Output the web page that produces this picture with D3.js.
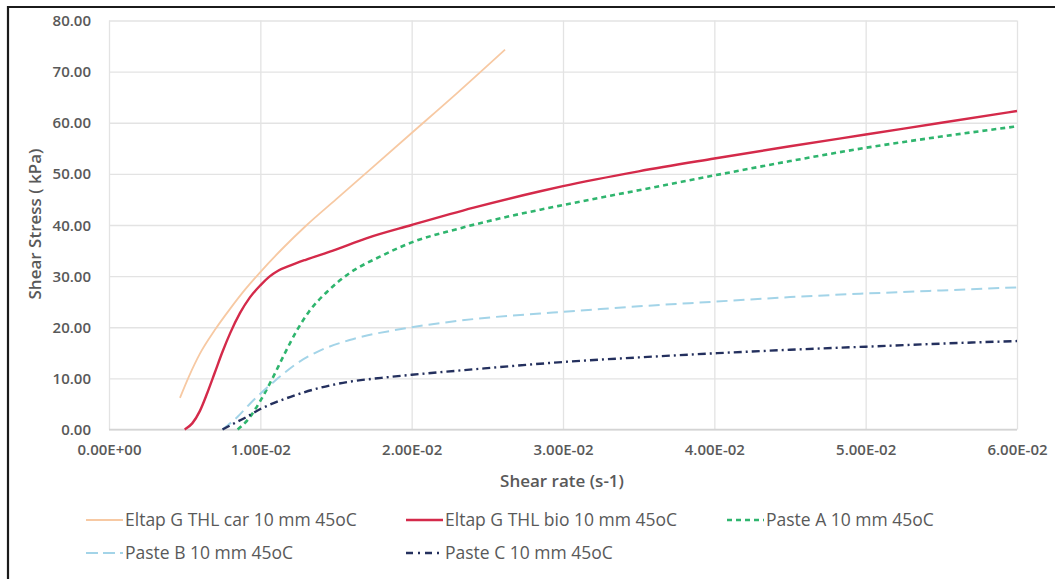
<!DOCTYPE html>
<html>
<head>
<meta charset="utf-8">
<script src="https://cdn.jsdelivr.net/npm/d3@7"></script>
<style>
  body { margin: 0; background: #fff; }
  svg text { font-family: "Open Sans", "Noto Sans", sans-serif; fill: #595959; }
</style>
</head>
<body>
<div class="chart"></div>
<script>
//data (shear rate in s-1, shear stress in kPa)
const seriesNames = [
    'Eltap G THL car 10 mm 45oC',
    'Eltap G THL bio 10 mm 45oC',
    'Paste A 10 mm 45oC',
    'Paste B 10 mm 45oC',
    'Paste C 10 mm 45oC'
];
const carRate = [0.00469, 0.0053, 0.0060, 0.0070, 0.0080, 0.0090, 0.0100, 0.0115, 0.0130, 0.0150, 0.0170, 0.0200, 0.0230, 0.02617];
const carStress = [6.2, 10.5, 14.8, 19.5, 23.6, 27.4, 30.8, 35.5, 39.8, 45.0, 50.2, 58.0, 65.8, 74.3];

const bioRate = [0.0050, 0.0055, 0.0060, 0.0065, 0.0070, 0.0075, 0.0080, 0.00866, 0.0093, 0.0100, 0.0106, 0.0112, 0.0120, 0.0130, 0.0148, 0.0170, 0.0200, 0.0241, 0.0285, 0.0300, 0.0350, 0.0400, 0.0450, 0.0500, 0.0550, 0.0600];
const bioStress = [0.0, 1.2, 3.6, 7.2, 11.2, 15.2, 18.8, 22.8, 25.8, 28.2, 29.9, 31.1, 32.1, 33.2, 35.0, 37.4, 40.0, 43.4, 46.6, 47.6, 50.5, 53.0, 55.4, 57.7, 60.0, 62.3];

const pasteARate = [0.0085, 0.0092, 0.0100, 0.0108, 0.0116, 0.0124, 0.0132, 0.0144, 0.0159, 0.0179, 0.0200, 0.0230, 0.0263, 0.0285, 0.0300, 0.0350, 0.0400, 0.0450, 0.0500, 0.0550, 0.0600];
const pasteAStress = [0.0, 2.0, 5.6, 10.0, 14.8, 19.3, 23.0, 26.9, 30.6, 33.8, 36.6, 39.2, 41.6, 43.0, 43.9, 46.8, 49.7, 52.5, 55.1, 57.3, 59.3];

const pasteBRate = [0.0075, 0.0085, 0.0093, 0.0100, 0.0108, 0.0116, 0.0124, 0.0137, 0.0159, 0.0192, 0.0200, 0.0241, 0.0285, 0.0300, 0.0350, 0.0400, 0.0450, 0.0500, 0.0550, 0.0600];
const pasteBStress = [0.0, 2.5, 5.0, 7.0, 9.1, 11.1, 12.9, 15.1, 17.5, 19.6, 20.0, 21.6, 22.7, 23.0, 24.1, 25.0, 25.9, 26.6, 27.2, 27.8];

const pasteCRate = [0.0075, 0.0080, 0.0090, 0.0100, 0.0110, 0.0120, 0.0140, 0.0160, 0.0180, 0.0200, 0.0250, 0.0300, 0.0350, 0.0400, 0.0450, 0.0500, 0.0550, 0.0600];
const pasteCStress = [0.0, 0.8, 2.3, 4.0, 5.3, 6.4, 8.2, 9.4, 10.1, 10.7, 12.0, 13.2, 14.1, 14.9, 15.6, 16.2, 16.8, 17.3];

const xTicks = [0, 0.01, 0.02, 0.03, 0.04, 0.05, 0.06];
const xTickLabels = ['0.00E+00', '1.00E-02', '2.00E-02', '3.00E-02', '4.00E-02', '5.00E-02', '6.00E-02'];
const yTicks = [0, 10, 20, 30, 40, 50, 60, 70, 80];

//build series
const zip = (xs, ys) => xs.map((x, i) => ({ x: x, y: ys[i] }));
const series = [
    { name: seriesNames[0], values: zip(carRate, carStress), color: '#f7c9a3', width: 1.8, dash: null, legendDash: null },
    { name: seriesNames[1], values: zip(bioRate, bioStress), color: '#d42a4a', width: 2.4, dash: null, legendDash: null },
    { name: seriesNames[2], values: zip(pasteARate, pasteAStress), color: '#2fb56e', width: 2.6, dash: '5,4', legendDash: '5,4' },
    { name: seriesNames[3], values: zip(pasteBRate, pasteBStress), color: '#a3d4e8', width: 2, dash: '11,6', legendDash: '12,5' },
    { name: seriesNames[4], values: zip(pasteCRate, pasteCStress), color: '#24305e', width: 2.4, dash: '8,4,2,4', legendDash: '7,5,2,5' }
];

//chart
const width = 1055;
const height = 579;
const margin = { top: 20.5, right: 38, bottom: 149.5, left: 109 };
const widthChart = width - margin.left - margin.right;
const heightChart = height - margin.top - margin.bottom;

const svg = d3.select('.chart')
    .append('svg')
    .attr('width', width)
    .attr('height', height);

// frame (top and left edges only)
svg.append('path')
    .attr('d', 'M8,579 L8,7 L1055,7')
    .attr('fill', 'none')
    .attr('stroke', '#1b1b1b')
    .attr('stroke-width', 2.2);

const g = svg.append('g')
    .attr('transform', `translate(${margin.left},${margin.top})`);

const xScale = d3.scaleLinear().domain([0, 0.06]).range([0, widthChart]);
const yScale = d3.scaleLinear().domain([0, 80]).range([heightChart, 0]);

// axes + grid
const xAxis = d3.axisBottom(xScale)
    .tickValues(xTicks)
    .tickFormat((d, i) => xTickLabels[i])
    .tickSizeInner(-heightChart)
    .tickSizeOuter(0)
    .tickPadding(15);
const yAxis = d3.axisLeft(yScale)
    .tickValues(yTicks)
    .tickFormat(d3.format('.2f'))
    .tickSizeInner(-widthChart)
    .tickSizeOuter(0)
    .tickPadding(18);

const xAxisDraw = g.append('g')
    .attr('class', 'x-axis')
    .attr('transform', `translate(0,${heightChart})`)
    .call(xAxis);
const yAxisDraw = g.append('g')
    .attr('class', 'y-axis')
    .call(yAxis);

[xAxisDraw, yAxisDraw].forEach(ax => {
    ax.select('.domain').remove();
    ax.selectAll('.tick line').attr('stroke', '#e3e3e3').attr('stroke-width', 1.3);
    ax.selectAll('.tick text')
        .style('font-size', '15px')
        .style('font-weight', 600)
        .attr('fill', '#5f5f5f');
});
yAxisDraw.selectAll('.tick text').attr('dy', '0.34em');
// bottom axis line
g.append('line')
    .attr('x1', 0).attr('x2', widthChart)
    .attr('y1', heightChart).attr('y2', heightChart)
    .attr('stroke', '#d4d4d4').attr('stroke-width', 1.5);

// lines
const line = d3.line()
    .x(d => xScale(d.x))
    .y(d => yScale(d.y))
    .curve(d3.curveMonotoneX);

g.append('g')
    .selectAll('path')
    .data(series)
    .join('path')
    .attr('d', d => line(d.values))
    .attr('fill', 'none')
    .attr('stroke', d => d.color)
    .attr('stroke-width', d => d.width)
    .attr('stroke-dasharray', d => d.dash)
    .attr('stroke-linejoin', 'round');

// axis titles
svg.append('text')
    .attr('x', 562)
    .attr('y', 487)
    .attr('text-anchor', 'middle')
    .style('font-size', '17px')
    .style('font-weight', 600)
    .text('Shear rate (s-1)');

svg.append('text')
    .attr('transform', 'translate(41,224) rotate(-90)')
    .attr('text-anchor', 'middle')
    .style('font-size', '17px')
    .style('font-weight', 600)
    .text('Shear Stress ( kPa)');

// legend
const legendPos = [
    { x: 86, y: 520 }, { x: 406, y: 520 }, { x: 727, y: 520 },
    { x: 86, y: 553 }, { x: 406, y: 553 }
];
const legend = svg.append('g')
    .selectAll('g')
    .data(series)
    .join('g')
    .attr('transform', (d, i) => `translate(${legendPos[i].x},${legendPos[i].y})`);
legend.append('line')
    .attr('x1', 0).attr('x2', 37)
    .attr('y1', 0).attr('y2', 0)
    .attr('stroke', d => d.color)
    .attr('stroke-width', d => d.width)
    .attr('stroke-dasharray', d => d.legendDash);
legend.append('text')
    .attr('x', 39)
    .attr('y', 6)
    .style('font-size', '17.5px')
    .text(d => d.name);
</script>
</body>
</html>
